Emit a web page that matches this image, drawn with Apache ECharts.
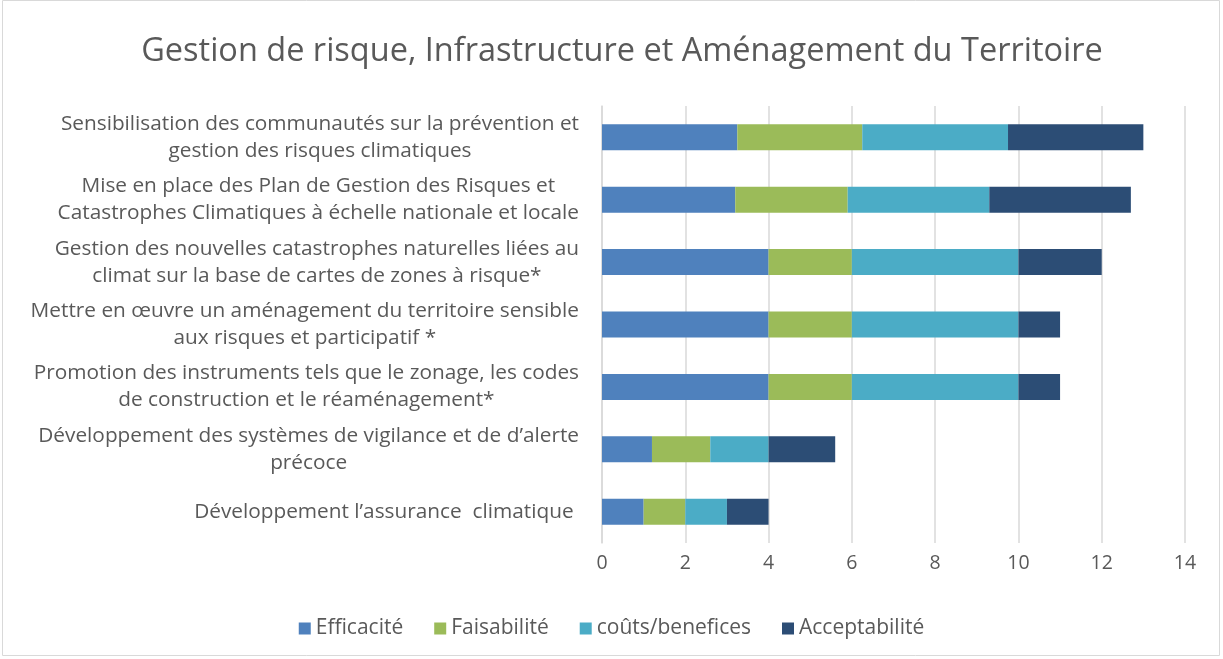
<!DOCTYPE html>
<html><head><meta charset="utf-8">
<script src="https://cdn.jsdelivr.net/npm/echarts@6/dist/echarts.min.js"></script>
<style>html,body{margin:0;padding:0;background:#fff}#c{width:1223px;height:659px}</style>
</head><body><div id="c"></div>
<script>
const categories = [
  "Sensibilisation des communautés sur la prévention et\ngestion des risques climatiques",
  "Mise en place des Plan de Gestion des Risques et\nCatastrophes Climatiques à échelle nationale et locale",
  "Gestion des nouvelles catastrophes naturelles liées au\nclimat sur la base de cartes de zones à risque*",
  "Mettre en œuvre un aménagement du territoire sensible\naux risques et participatif *",
  "Promotion des instruments tels que le zonage, les codes\nde construction et le réaménagement*",
  "Développement des systèmes de vigilance et de d’alerte\nprécoce",
  "Développement l’assurance  climatique "
];
const seriesNames = ["Efficacité", "Faisabilité", "coûts/benefices", "Acceptabilité"];
const efficacite = [3.25, 3.2, 4, 4, 4, 1.2, 1];
const faisabilite = [3, 2.7, 2, 2, 2, 1.4, 1];
const couts = [3.5, 3.4, 4, 4, 4, 1.4, 1];
const acceptabilite = [3.25, 3.4, 2, 1, 1, 1.6, 1];
const xTicks = [0, 2, 4, 6, 8, 10, 12, 14];

const colors = ["#4f81bd", "#9bbb59", "#4bacc6", "#2c4d75"];
const values = [efficacite, faisabilite, couts, acceptabilite];
const FONT = "Open Sans";
const chart = echarts.init(document.getElementById('c'));
chart.setOption({
  animation: false,
  textStyle: { fontFamily: FONT },
  title: {
    text: "Gestion de risque, Infrastructure et Aménagement du Territoire",
    left: 617, textAlign: 'center', top: 30,
    textStyle: { fontFamily: FONT, fontSize: 32.5, fontWeight: 'normal', color: '#595959' }
  },
  graphic: [{ type: 'rect', shape: { x: 2.5, y: 0.5, width: 1217, height: 655 },
    style: { fill: 'none', stroke: '#d9d9d9', lineWidth: 1 }, silent: true }],
  legend: {
    bottom: 15, left: 'center', itemWidth: 12, itemHeight: 12, itemGap: 31,
    icon: 'rect',
    textStyle: { fontFamily: FONT, fontSize: 21, color: '#595959' },
    data: seriesNames
  },
  grid: { left: 602, right: 38, top: 106, bottom: 116, containLabel: false },
  xAxis: {
    type: 'value', min: 0, max: 14, interval: 2,
    axisLine: { show: false }, axisTick: { show: false },
    splitLine: { lineStyle: { color: '#d9d9d9', width: 1.5 } },
    axisLabel: { fontFamily: FONT, fontSize: 19.5, color: '#595959', margin: 10,
      formatter: v => xTicks.includes(v) ? String(v) : '' }
  },
  yAxis: {
    type: 'category', inverse: true, data: categories,
    axisLine: { show: true, lineStyle: { color: '#d9d9d9', width: 1.5 } },
    axisTick: { show: false },
    axisLabel: {
      margin: 23, color: '#595959', fontFamily: FONT, fontSize: 20.8, lineHeight: 27,
      formatter: v => v.split('\n').map(l => '{c|' + l + '}').join('\n'),
      rich: { c: { align: 'center', fontFamily: FONT, fontSize: 20.8, lineHeight: 27, color: '#595959' } }
    }
  },
  series: values.map((d, i) => ({
    name: seriesNames[i], type: 'bar', stack: 'total', data: d,
    barWidth: 26, itemStyle: { color: colors[i] }
  }))
});
</script></body></html>
